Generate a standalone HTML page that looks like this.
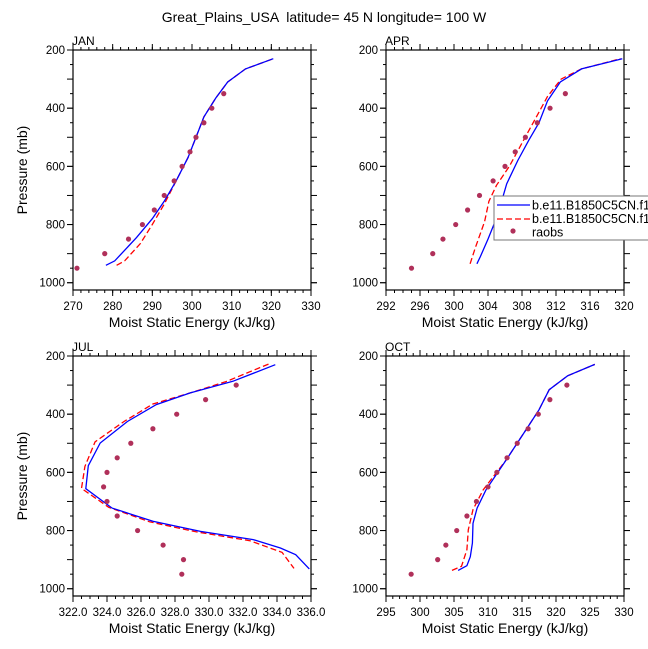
<!DOCTYPE html>
<html><head><meta charset="utf-8"><style>
body{margin:0;background:#fff;}
svg{display:block;font-family:"Liberation Sans",sans-serif;}
</style></head><body>
<svg id="c" width="648" height="649">
<text x="324" y="22" text-anchor="middle" font-size="14" style="white-space:pre">Great_Plains_USA  latitude= 45 N longitude= 100 W</text>
</svg>
<script>
// JAN
const janBlueX=[278.3,280.5,286,290,293,296,299,301,303,306,309,313.5,320.5];
const janBlueP=[940,925,845,780,720,650,570,500,430,365,310,265,230];
const janRedX=[281,283,287,290,293,296,299,301,303,306,309,313.5,320.5];
const janRedP=[940,925,865,800,730,650,570,500,430,365,310,265,230];
const janObsX=[271,278,284,287.5,290.5,293,295.5,297.5,299.5,301,303,305,308];
const janObsP=[950,900,850,800,750,700,650,600,550,500,450,400,350];
// APR
const aprBlueX=[302.7,303.1,304,304.7,305.3,305.6,306.2,307.5,308.8,310,311,312.5,315,319.8];
const aprBlueP=[935,910,850,800,750,720,660,580,510,450,375,310,265,230];
const aprRedX=[301.9,302.5,303.6,304.1,305,306.5,308,309.5,311,312.6,315,319.6];
const aprRedP=[935,880,790,720,665,600,520,440,360,300,265,230];
const aprObsX=[295,297.5,298.7,300.2,301.6,303,304.6,306,307.2,308.4,309.8,311.3,313.1];
const aprObsP=[950,900,850,800,750,700,650,600,550,500,450,400,350];
// JUL
const julBlueX=[333.9,331.4,328.9,326.9,325.2,323.6,322.9,322.75,324.3,326.7,329.5,332.6,334.2,335.1,335.9];
const julBlueP=[230,287,327,367,425,499,577,656,723,768,803,831,860,883,932];
const julRedX=[333.5,331,329,326.7,325,323.3,322.7,322.5,324.1,326.5,329.3,332.4,334.3,335];
const julRedP=[228,288,325,365,425,495,580,655,720,770,805,835,875,930];
const julObsX=[331.6,329.8,328.1,326.7,325.4,324.6,324,323.8,324,324.6,325.8,327.3,328.5,328.4];
const julObsP=[300,350,400,450,500,550,600,650,700,750,800,850,900,950];
// OCT
const octBlueX=[305.6,306.9,307.4,307.7,307.8,308.4,309.7,312.7,315.6,317.5,319,321.7,325.7];
const octBlueP=[937,921,890,843,775,723,660,556,453,385,316,268,229];
const octRedX=[304.7,306.1,306.9,307.1,307.8,309.3,312.7,315.6,317.5,319,321.7,325.7];
const octRedP=[937,923,866,797,728,660,556,453,385,316,268,229];
const octObsX=[298.7,302.6,303.8,305.4,306.9,308.3,310,311.3,312.8,314.3,315.9,317.4,319.1,321.6];
const octObsP=[950,900,850,800,750,700,650,600,550,500,450,400,350,300];
// axis ticks
const janTicks=[270,280,290,300,310,320,330];
const aprTicks=[292,296,300,304,308,312,316,320];
const julTicks=[322,324,326,328,330,332,334,336];
const julTickLabels=["322.0","324.0","326.0","328.0","330.0","332.0","334.0","336.0"];
const octTicks=[295,300,305,310,315,320,325,330];
const pTicks=[200,400,600,800,1000];
const legendLabels=["b.e11.B1850C5CN.f1","b.e11.B1850C5CN.f1","raobs"];

const NS="http://www.w3.org/2000/svg";
const svg=document.getElementById('c');
function mk(tag,attrs,parent){const e=document.createElementNS(NS,tag);for(const k in attrs)e.setAttribute(k,attrs[k]);(parent||svg).appendChild(e);return e;}

function panel(o){
  const g=mk('g',{});
  
  
  const L=o.x0,R=o.x0+238,T=o.y0,B=o.y0+240;
  const pTop=200,pBot=1025;
  const sx=v=>L+(v-o.xmin)/(o.xmax-o.xmin)*(R-L);
  const sy=p=>T+(p-pTop)/(pBot-pTop)*(B-T);
  for(let v=o.xmin;v<=o.xmax+1e-9;v+=o.minor){const x=sx(v);
    mk('line',{x1:x,x2:x,y1:B,y2:B+3,stroke:'#000','stroke-width':1},g);
    mk('line',{x1:x,x2:x,y1:T,y2:T-3,stroke:'#000','stroke-width':1},g);}
  o.ticks.forEach((v,i)=>{const x=sx(v);
    mk('line',{x1:x,x2:x,y1:B,y2:B+6,stroke:'#000','stroke-width':1},g);
    mk('line',{x1:x,x2:x,y1:T,y2:T-6,stroke:'#000','stroke-width':1},g);
    const t=mk('text',{x:x,y:B+20,'text-anchor':'middle','font-size':11.5},g);
    
    
    t.textContent=o.labels?o.labels[i]:v;});
  for(let p=250;p<=1000;p+=50){const y=sy(p);const len=(p%100===0)?6:3;
    mk('line',{x1:L,x2:L-len,y1:y,y2:y,stroke:'#000','stroke-width':1},g);
    mk('line',{x1:R,x2:R+len,y1:y,y2:y,stroke:'#000','stroke-width':1},g);}
  pTicks.forEach(p=>{const y=sy(p);
    mk('line',{x1:L,x2:L-6,y1:y,y2:y,stroke:'#000','stroke-width':1},g);
    mk('line',{x1:R,x2:R+6,y1:y,y2:y,stroke:'#000','stroke-width':1},g);
    const t=mk('text',{x:L-8,y:y+4,'text-anchor':'end','font-size':11.5},g);
    
    
    t.textContent=p;});
  const fr=mk('rect',{x:L,y:T,width:R-L,height:B-T,fill:'none',stroke:'#000','stroke-width':1.2},g);
  
  
  const lab=mk('text',{x:L-1,y:T-5,'font-size':12},g);
  
  
  lab.textContent=o.name.toUpperCase();
  const xt=mk('text',{x:(L+R)/2,y:B+37,'text-anchor':'middle','font-size':14},g);
  
  
  xt.textContent='Moist Static Energy (kJ/kg)';
  if(o.ytitle){const yt=mk('text',{x:0,y:0,'text-anchor':'middle','font-size':14,transform:`translate(27,${(T+B)/2}) rotate(-90)`},g);
    
    
    yt.textContent='Pressure (mb)';}
  const pts=(xs,ps)=>xs.map((v,i)=>sx(v).toFixed(1)+','+sy(ps[i]).toFixed(1)).join(' ');
  const rl=mk('polyline',{points:pts(o.rx,o.rp),fill:'none',stroke:'#f00','stroke-width':1.3,'stroke-dasharray':'6,3'},g);
  
  
  const bl=mk('polyline',{points:pts(o.bx,o.bp),fill:'none',stroke:'#00f','stroke-width':1.3},g);
  
  
  o.ox.forEach((v,i)=>{const c=mk('circle',{cx:sx(v),cy:sy(o.op[i]),r:2.6,fill:'#b0305a'},g);
    
    });
}
panel({name:'jan',x0:73,y0:50,xmin:270,xmax:330,minor:2,ticks:janTicks,ytitle:true,bx:janBlueX,bp:janBlueP,rx:janRedX,rp:janRedP,ox:janObsX,op:janObsP});
panel({name:'apr',x0:386,y0:50,xmin:292,xmax:320,minor:1,ticks:aprTicks,ytitle:false,bx:aprBlueX,bp:aprBlueP,rx:aprRedX,rp:aprRedP,ox:aprObsX,op:aprObsP});
panel({name:'jul',x0:73,y0:356,xmin:322,xmax:336,minor:0.5,ticks:julTicks,labels:julTickLabels,ytitle:true,bx:julBlueX,bp:julBlueP,rx:julRedX,rp:julRedP,ox:julObsX,op:julObsP});
panel({name:'oct',x0:386,y0:356,xmin:295,xmax:330,minor:1,ticks:octTicks,ytitle:false,bx:octBlueX,bp:octBlueP,rx:octRedX,rp:octRedP,ox:octObsX,op:octObsP});
const lg=mk('g',{});


mk('rect',{x:494,y:196,width:160,height:44,fill:'#fff',stroke:'#777','stroke-width':1},lg);
mk('line',{x1:497,x2:530,y1:205,y2:205,stroke:'#00f','stroke-width':1.3},lg);
mk('line',{x1:497,x2:530,y1:219,y2:219,stroke:'#f00','stroke-width':1.3,'stroke-dasharray':'6,3'},lg);
mk('circle',{cx:513,cy:231,r:2.6,fill:'#b0305a'},lg);
legendLabels.forEach((s,i)=>{const t=mk('text',{x:532,y:209.5+i*13.5,'font-size':12.5},lg);
  
  
  t.textContent=s;});
</script>
</body></html>
